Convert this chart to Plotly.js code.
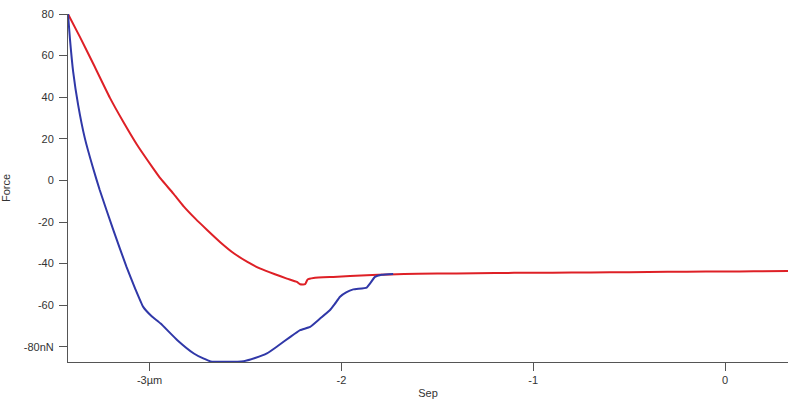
<!DOCTYPE html>
<html>
<head>
<meta charset="utf-8">
<script src="https://cdn.plot.ly/plotly-3.0.1.min.js"></script>
<style>html,body{margin:0;padding:0;background:#fff;}#chart{width:788px;height:406px;}</style>
</head>
<body>
<div id="chart"></div>
<script>
// Approach (red) curve: separation in µm, force in nN
const sepApproach = [-3.425, -3.363, -3.294, -3.207, -3.137, -3.067, -2.981, -2.942, -2.877, -2.821, -2.76, -2.7, -2.63, -2.561, -2.49, -2.422, -2.35, -2.284, -2.232, -2.215, -2.189, -2.176, -2.145, -2.042, -1.868, -1.748, -1.6, -1.4, -1.2, -1.0, -0.8, -0.6, -0.4, -0.2, 0.0, 0.15, 0.328];
const forceApproach = [80, 69.0, 56.2, 39.8, 28.2, 17.4, 5.8, 0.8, -6.2, -12.6, -18.5, -23.8, -29.8, -35.0, -39.2, -42.4, -45.0, -47.2, -48.8, -49.9, -49.9, -47.6, -46.9, -46.4, -45.6, -45.2, -44.9, -44.7, -44.5, -44.4, -44.3, -44.2, -44.0, -43.9, -43.8, -43.7, -43.6];

// Retract (blue) curve
const sepRetract = [-3.425, -3.415, -3.398, -3.372, -3.337, -3.294, -3.26, -3.189, -3.12, -3.075, -3.033, -2.99, -2.942, -2.855, -2.769, -2.72, -2.682, -2.6, -2.509, -2.45, -2.388, -2.33, -2.266, -2.215, -2.163, -2.111, -2.059, -2.035, -2.007, -1.975, -1.938, -1.868, -1.851, -1.825, -1.79, -1.73];
const forceRetract = [80, 68.2, 52.2, 36.2, 20.2, 5.8, -4.5, -23.8, -41.6, -52, -60.8, -65.2, -68.8, -76.8, -83.2, -85.6, -87.0, -87.2, -86.9, -85.4, -83.2, -79.5, -75.2, -72.0, -70.4, -66.4, -62.3, -59.5, -55.9, -53.8, -52.4, -51.5, -49.6, -46.4, -45.4, -45.0];

// Axis ticks
const xTickVals = [-3, -2, -1, 0];
const xTickText = ["-3µm", "-2", "-1", "0"];
const yTickVals = [80, 60, 40, 20, 0, -20, -40, -60, -80];
const yTickText = ["80", "60", "40", "20", "0", "-20", "-40", "-60", "-80nN"];

const traces = [
  {x: sepApproach, y: forceApproach, mode: 'lines', line: {color: 'rgb(222,32,38)', width: 2, shape: 'spline', smoothing: 0.4}, hoverinfo: 'none'},
  {x: sepRetract, y: forceRetract, mode: 'lines', line: {color: 'rgb(48,56,168)', width: 2, shape: 'spline', smoothing: 0.4}, hoverinfo: 'none'}
];

const fontSpec = {family: 'Liberation Sans, Arial, sans-serif', size: 11, color: '#333'};

const axisCommon = {
  showline: true, linecolor: '#555', linewidth: 1,
  ticks: 'outside', ticklen: 8, tickcolor: '#555', tickwidth: 1,
  showgrid: false, zeroline: false,
  tickfont: fontSpec
};

const layout = {
  width: 788, height: 406,
  margin: {l: 68, r: 0, t: 14, b: 44},
  paper_bgcolor: '#fff', plot_bgcolor: '#fff',
  showlegend: false,
  xaxis: Object.assign({}, axisCommon, {
    range: [-3.425, 0.328], tickvals: xTickVals, ticktext: xTickText,
    title: {text: 'Sep', standoff: 4, font: fontSpec}
  }),
  yaxis: Object.assign({}, axisCommon, {
    range: [-87.3, 80], tickvals: yTickVals, ticktext: yTickText,
    ticklabelstandoff: 3,
    title: {text: 'Force', standoff: 12, font: fontSpec}
  })
};

Plotly.newPlot('chart', traces, layout, {displayModeBar: false, staticPlot: true});
</script>
</body>
</html>
